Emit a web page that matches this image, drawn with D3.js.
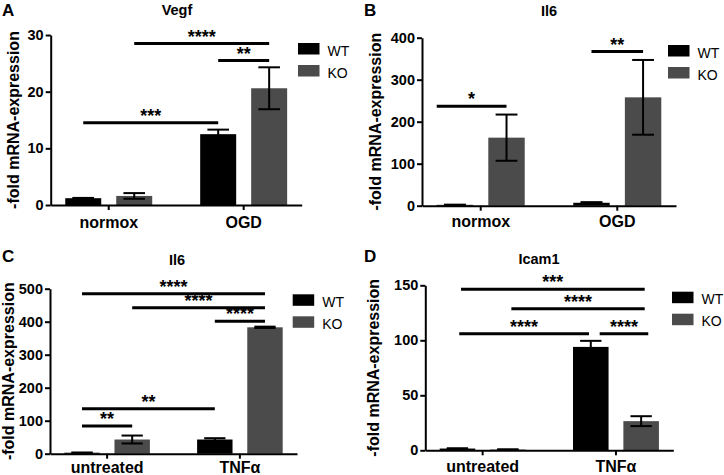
<!DOCTYPE html>
<html><head><meta charset="utf-8">
<script src="https://cdn.jsdelivr.net/npm/d3@7"></script>
<style>
body{margin:0;background:#fff}
svg{display:block}
text{font-family:"Liberation Sans",Arial,Helvetica,sans-serif}
</style>
</head><body>
<svg id="chart" width="724" height="475"></svg>
<script>
// ---------------- DATA ----------------
const series = ["WT", "KO"];
const categoriesAB = ["normox", "OGD"];
const categoriesCD = ["untreated", "TNFα"];

// A: Vegf
const vegfWT = [1.2, 12.5];
const vegfWTErr = [0.05, 0.8];
const vegfKO = [1.6, 20.6];
const vegfKOErr = [0.5, 3.7];
// B: Il6 (OGD)
const il6OgdWT = [2, 7];
const il6OgdWTErr = [0.5, 1.5];
const il6OgdKO = [162, 258];
const il6OgdKOErr = [55, 89];
// C: Il6 (TNFα)
const il6TnfWT = [3, 43];
const il6TnfWTErr = [0.5, 4];
const il6TnfKO = [43, 383];
const il6TnfKOErr = [12, 2];
// D: Icam1
const icamWT = [1.6, 94];
const icamWTErr = [0.2, 5.5];
const icamKO = [0.7, 26.5];
const icamKOErr = [0.1, 4.5];

const ticksA = [0, 10, 20, 30];
const ticksB = [0, 100, 200, 300, 400];
const ticksC = [0, 100, 200, 300, 400, 500];
const ticksD = [0, 50, 100, 150];

// significance brackets: [fromCategory, fromSeries, toCategory, toSeries, level, stars]
const sigA = [
  [0, 1, 1, 1, 28.5, "****"],
  [1, 0, 1, 1, 25.5, "**"],
  [0, 0, 1, 0, 14.5, "***"]
];
const sigB = [
  [0, 0, 0, 1, 237, "*"],
  [1, 0, 1, 1, 367, "**"]
];
const sigC = [
  [0, 0, 1, 1, 485, "****"],
  [0, 1, 1, 1, 442, "****"],
  [1, 0, 1, 1, 401, "****"],
  [0, 0, 1, 0, 136, "**"],
  [0, 0, 0, 1, 84, "**"]
];
const sigD = [
  [0, 0, 1, 1, 146.5, "***"],
  [0, 1, 1, 1, 128.7, "****"],
  [0, 0, 1, 0, 106, "****"],
  [1, 0, 1, 1, 106, "****"]
];

// ---------------- DRAW ----------------
const colors = {WT: "#000000", KO: "#4b4b4b"};
const svg = d3.select("#chart");

const panels = [
  {letter: "A", title: "Vegf", cats: categoriesAB, wt: vegfWT, wtE: vegfWTErr, ko: vegfKO, koE: vegfKOErr,
   ticks: ticksA, sig: sigA, left: 50.7, width: 251, top: 35, bottom: 205, ox: 0, oy: 0,
   titleX: 177, titleY: 15, letterY: 16, labelX: 18.5, xPad: 6.5, legX: 298, legY: 43,
   sigShift: []},
  {letter: "B", title: "Il6", cats: categoriesAB, wt: il6OgdWT, wtE: il6OgdWTErr, ko: il6OgdKO, koE: il6OgdKOErr,
   ticks: ticksB, sig: sigB, left: 422, width: 254, top: 37.7, bottom: 205.7, ox: 362, oy: 0,
   titleX: 549, titleY: 16, letterY: 16, labelX: 380.5, xPad: 4.5, legX: 668, legY: 45,
   sigShift: [[-0.5, 0], [0, 0]]},
  {letter: "C", title: "Il6", cats: categoriesCD, wt: il6TnfWT, wtE: il6TnfWTErr, ko: il6TnfKO, koE: il6TnfKOErr,
   ticks: ticksC, sig: sigC, left: 50, width: 247, top: 288.7, bottom: 453.7, ox: 0, oy: 237,
   titleX: 177, titleY: 265, letterY: 262, labelX: 13.5, xPad: 3, legX: 292.7, legY: 294.3,
   sigShift: []},
  {letter: "D", title: "Icam1", cats: categoriesCD, wt: icamWT, wtE: icamWTErr, ko: icamKO, koE: icamKOErr,
   ticks: ticksD, sig: sigD, left: 425.3, width: 248, top: 285.3, bottom: 450.3, ox: 362, oy: 237,
   titleX: 539, titleY: 264, letterY: 262, labelX: 379, xPad: 5, legX: 672, legY: 291.7,
   sigShift: [[0.1, 0.1], [0.1, 0.1], [0.05, -0.05], [0.25, 0.2]]}
];

panels.forEach(p => {
  const g = svg.append("g");
  const max = p.ticks[p.ticks.length - 1];
  const y = d3.scaleLinear().domain([0, max]).range([p.bottom, p.top]);
  const x0 = d3.scaleBand().domain(p.cats).range([p.left, p.left + p.width])
    .paddingInner(0.3).paddingOuter(0.08);
  const x1 = d3.scaleBand().domain(series).range([0, x0.bandwidth()])
    .paddingInner(0.294).paddingOuter(0.0735);
  const bw = x1.bandwidth();

  const rows = [];
  p.cats.forEach((c, i) => {
    rows.push({cat: c, s: "WT", v: p.wt[i], e: p.wtE[i]});
    rows.push({cat: c, s: "KO", v: p.ko[i], e: p.koE[i]});
  });

  // bars
  g.selectAll("rect.bar").data(rows).join("rect")
    .attr("x", d => x0(d.cat) + x1(d.s))
    .attr("y", d => y(d.v))
    .attr("width", bw)
    .attr("height", d => y(0) - y(d.v))
    .attr("fill", d => colors[d.s]);

  // error bars
  const capW = bw * 0.6;
  rows.forEach(d => {
    const cx = x0(d.cat) + x1(d.s) + bw / 2;
    g.append("line").attr("x1", cx).attr("x2", cx)
      .attr("y1", y(d.v - d.e)).attr("y2", y(d.v + d.e))
      .attr("stroke", "#000").attr("stroke-width", 2);
    [d.v - d.e, d.v + d.e].forEach(v => {
      g.append("line").attr("x1", cx - capW / 2).attr("x2", cx + capW / 2)
        .attr("y1", y(v)).attr("y2", y(v))
        .attr("stroke", "#000").attr("stroke-width", 2);
    });
  });

  // axes
  const yAxis = d3.axisLeft(y).tickValues(p.ticks).tickSize(5).tickSizeOuter(0).tickPadding(2);
  const ya = g.append("g").attr("transform", `translate(${p.left},0)`).call(yAxis);
  const xAxis = d3.axisBottom(x0).tickSize(5).tickSizeOuter(0).tickPadding(p.xPad);
  const xa = g.append("g").attr("transform", `translate(0,${p.bottom})`).call(xAxis);
  [ya, xa].forEach(a => {
    a.select(".domain").attr("stroke", "#000").attr("stroke-width", 2);
    a.selectAll(".tick line").attr("stroke", "#000").attr("stroke-width", 2);
  });
  ya.selectAll(".tick text").attr("font-size", 14.5).attr("font-weight", "bold").attr("fill", "#000")
    .attr("font-family", '"Liberation Sans",Arial,sans-serif');
  xa.selectAll(".tick text").attr("font-size", 16).attr("font-weight", "bold").attr("fill", "#000")
    .attr("font-family", '"Liberation Sans",Arial,sans-serif');

  // y label
  const midY = (p.top + p.bottom) / 2;
  g.append("text")
    .attr("transform", `translate(${p.labelX},${midY}) rotate(-90)`)
    .attr("text-anchor", "middle").attr("font-size", 16).attr("font-weight", "bold")
    .text("-fold mRNA-expression");

  // panel letter and title
  g.append("text").attr("x", p.ox + 2).attr("y", p.letterY)
    .attr("font-size", 17).attr("font-weight", "bold").text(p.letter);
  g.append("text").attr("x", p.titleX).attr("y", p.titleY)
    .attr("text-anchor", "middle").attr("font-size", 14.5).attr("font-weight", "bold").text(p.title);

  // significance brackets
  p.sig.forEach((s, i) => {
    const sh = p.sigShift[i] || [0, 0];
    const xa1 = x0(p.cats[s[0]]) + x1(series[s[1]]) + bw / 2 + sh[0] * bw;
    const xa2 = x0(p.cats[s[2]]) + x1(series[s[3]]) + bw / 2 + sh[1] * bw;
    const yy = y(s[4]);
    g.append("line").attr("x1", xa1).attr("x2", xa2).attr("y1", yy).attr("y2", yy)
      .attr("stroke", "#000").attr("stroke-width", 3);
    g.append("text").attr("x", (xa1 + xa2) / 2).attr("y", yy - 1)
      .attr("text-anchor", "middle").attr("font-size", 18).attr("font-weight", "bold")
      .text(s[5]);
  });

  // legend
  series.forEach((s, i) => {
    const ly = p.legY + i * 22;
    g.append("rect").attr("x", p.legX).attr("y", ly).attr("width", 21.5).attr("height", 11.5)
      .attr("fill", colors[s]);
    g.append("text").attr("x", p.legX + 29.5).attr("y", ly + 12.5)
      .attr("font-size", 14).attr("fill", "#000").text(s);
  });
});
</script>
</body></html>
